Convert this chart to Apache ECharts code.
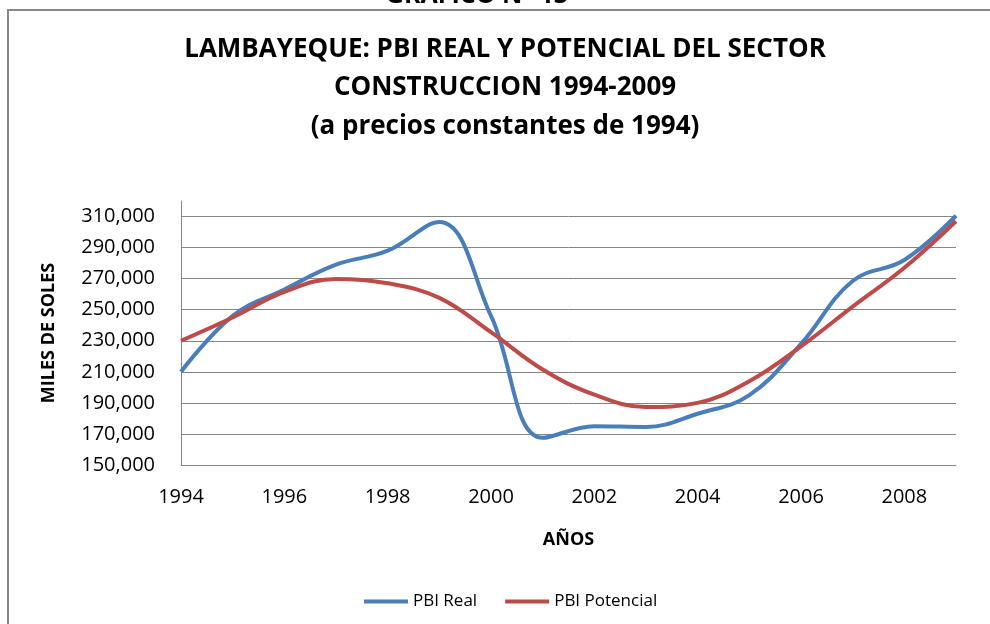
<!DOCTYPE html>
<html>
<head>
<meta charset="utf-8">
<title>Lambayeque PBI construccion</title>
<script src="https://cdn.jsdelivr.net/npm/echarts@6/dist/echarts.min.js"></script>
<style>
  html, body { margin: 0; padding: 0; background: #fff; }
  #main { width: 990px; height: 624px; }
</style>
</head>
<body>
<div id="main"></div>
<script>
// años del eje x
var years = ['1994', '1995', '1996', '1997', '1998', '1999', '2000', '2001',
             '2002', '2003', '2004', '2005', '2006', '2007', '2008', '2009'];

// miles de soles
var pbiReal = [210000, 246000, 263000, 279000, 288000, 306500, 246000, 167500,
               175000, 174500, 183000, 195000, 228000, 268500, 282000, 310500];
var pbiPotencial = [230000, 245000, 261500, 269800, 267000, 257600, 235500, 211500,
                    195300, 187400, 190000, 204000, 226400, 252000, 277000, 307000];

var font = 'Open Sans';

var myChart = echarts.init(document.getElementById('main'));

myChart.setOption({
    backgroundColor: '#fff',
    animation: false,
    graphic: [{
        type: 'rect',
        shape: { x: 8, y: 10, width: 1100, height: 800 },
        style: { fill: 'none', stroke: '#888', lineWidth: 2 },
        silent: true
    }],
    title: [{
        text: 'GRAFICO N° 13',
        left: 477,
        textAlign: 'center',
        top: -17,
        padding: 0,
        textStyle: { fontFamily: font, fontSize: 25, fontWeight: 'bold', color: '#000' }
    }, {
        text: 'LAMBAYEQUE: PBI REAL Y POTENCIAL DEL SECTOR\nCONSTRUCCION 1994-2009\n(a precios constantes de 1994)',
        left: 505,
        textAlign: 'center',
        top: 30,
        padding: 0,
        textStyle: { fontFamily: font, fontSize: 26, fontWeight: 'bold', color: '#000', lineHeight: 38.5 }
    }],
    legend: {
        data: ['PBI Real', 'PBI Potencial'],
        left: 359,
        top: 588,
        icon: 'rect',
        itemWidth: 44,
        itemHeight: 4,
        itemGap: 28,
        textStyle: { fontFamily: font, fontSize: 17, color: '#000' }
    },
    grid: { left: 181, right: 34, top: 201, bottom: 159, containLabel: false },
    xAxis: {
        type: 'category',
        data: years,
        boundaryGap: false,
        name: 'AÑOS',
        nameLocation: 'middle',
        nameGap: 66,
        nameTextStyle: { fontFamily: font, fontSize: 18, fontWeight: 'bold', color: '#000' },
        axisLine: { lineStyle: { color: '#868686', width: 1 } },
        axisTick: { show: false },
        axisLabel: { interval: 1, margin: 22, fontFamily: font, fontSize: 20, color: '#000' },
        splitLine: { show: false }
    },
    yAxis: {
        type: 'value',
        min: 150000,
        max: 320000,
        interval: 20000,
        name: 'MILES DE SOLES',
        nameLocation: 'middle',
        nameGap: 123,
        nameTextStyle: { fontFamily: font, fontSize: 18, fontWeight: 'bold', color: '#000' },
        axisLine: { show: true, lineStyle: { color: '#868686', width: 1 } },
        axisTick: { show: false },
        axisLabel: {
            margin: 26,
            showMaxLabel: false,
            fontFamily: font, fontSize: 20, color: '#000',
            formatter: function (v) { return v.toLocaleString('en-US'); }
        },
        splitLine: { show: true, showMaxLine: false, lineStyle: { color: '#868686', width: 1 } }
    },
    series: [{
        name: 'PBI Real',
        type: 'line',
        data: pbiReal,
        smooth: 0.4,
        symbol: 'none',
        color: '#4A7EBB',
        lineStyle: { width: 4, color: '#4A7EBB' }
    }, {
        name: 'PBI Potencial',
        type: 'line',
        data: pbiPotencial,
        smooth: 0.4,
        symbol: 'none',
        color: '#BE4B48',
        lineStyle: { width: 4, color: '#BE4B48' }
    }]
});
</script>
</body>
</html>
